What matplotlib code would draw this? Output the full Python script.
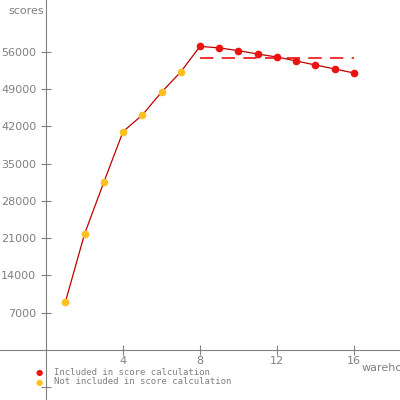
import numpy as np
import matplotlib.pyplot as plt

# datos
warehouses = [1, 2, 3, 4, 5, 6, 7, 8, 9, 10, 11, 12, 13, 14, 15, 16]
scores = [9000, 21800, 31500, 41000, 44100, 48400, 52200, 57000,
          56700, 56200, 55550, 55000, 54250, 53500, 52750, 52000]
included = [False] * 7 + [True] * 9
avg_score = 54750
yticks = [7000, 14000, 21000, 28000, 35000, 42000, 49000, 56000]
xticks = [4, 8, 12, 16]

gris = '#808080'

fig = plt.figure(figsize=(4, 4), dpi=100)
ax = fig.add_axes([0, 0, 1, 1])
ax.set_xlim(-2.4, 18.4)
ax.set_ylim(-9400, 65700)

x = np.array(warehouses)
y = np.array(scores)
inc = np.array(included)

ax.plot(x, y, color='#c00000', lw=0.9, zorder=2)
ax.plot(x[inc], y[inc], 'o', color='#ee1111', ms=4.5, zorder=3)
ax.plot(x[~inc], y[~inc], 'o', color='#ffc020', ms=4.5, zorder=3)
ax.plot([x[inc][0], x[inc][-1]], [avg_score, avg_score], color='#ee1111',
        lw=1.2, dashes=(8, 5), zorder=1)

for s in ['top', 'right']:
    ax.spines[s].set_visible(False)
ax.spines['left'].set_position(('data', 0))
ax.spines['bottom'].set_position(('data', 0))
ax.spines['left'].set_color(gris)
ax.spines['bottom'].set_color(gris)

ax.set_yticks(yticks + [-7000])
ax.set_yticklabels([str(v) for v in yticks] + [''])
ax.set_xticks(xticks)
ax.tick_params(direction='inout', length=7, color=gris, labelcolor=gris,
               labelsize=8)
ax.tick_params(axis='x', pad=1)

fig.text(0.02, 0.985, 'scores', color=gris, fontsize=8, va='top')
fig.text(0.905, 0.08, 'warehouses', color=gris, fontsize=8, va='center')

# leyenda
fig.text(0.09, 0.068, '●', color='#ee1111', fontsize=6, va='center')
fig.text(0.09, 0.045, '●', color='#ffc020', fontsize=6, va='center')
fig.text(0.135, 0.068, 'Included in score calculation', color=gris,
         fontsize=6.5, family='DejaVu Sans Mono', va='center')
fig.text(0.135, 0.045, 'Not included in score calculation', color=gris,
         fontsize=6.5, family='DejaVu Sans Mono', va='center')

fig.savefig('out.png', dpi=100)
